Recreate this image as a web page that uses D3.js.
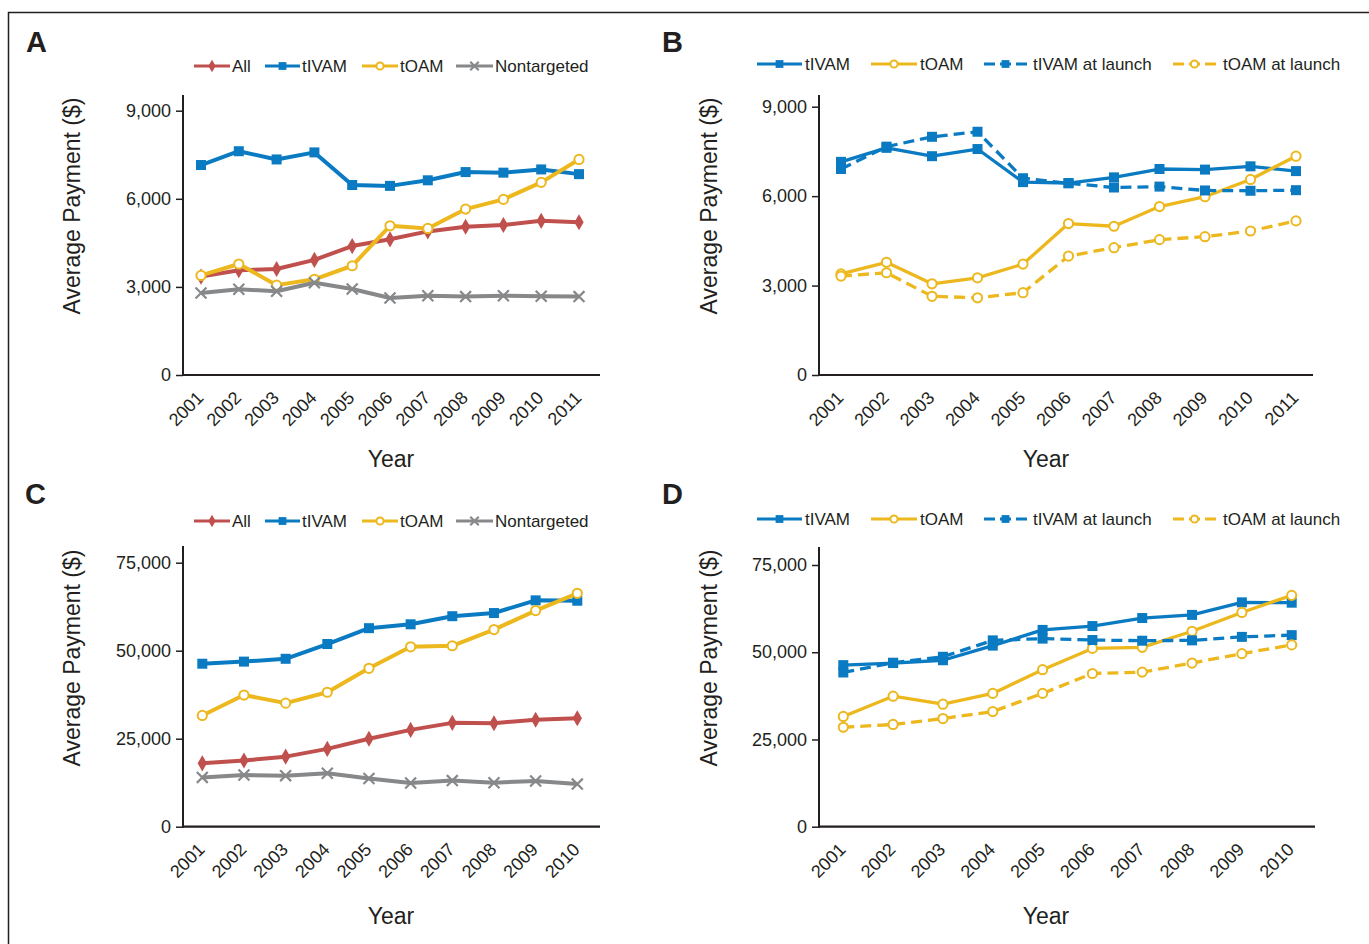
<!DOCTYPE html>
<html><head><meta charset="utf-8">
<script src="https://cdn.jsdelivr.net/npm/d3@7"></script>
<style>
body{margin:0;background:#fff}
svg text{font-family:"Liberation Sans",Arial,Helvetica,sans-serif;fill:#231f20}
</style>
</head><body>
<svg id="chart" width="1369" height="944"></svg>
<script>
// ---------------- DATA ----------------
const years11 = ["2001","2002","2003","2004","2005","2006","2007","2008","2009","2010","2011"];
const years10 = ["2001","2002","2003","2004","2005","2006","2007","2008","2009","2010"];
const labelsAC = ["All","tIVAM","tOAM","Nontargeted"];
const labelsBD = ["tIVAM","tOAM","tIVAM at launch","tOAM at launch"];
const yTicksAB = [0, 3000, 6000, 9000];
const yTicksCD = [0, 25000, 50000, 75000];

// Panel A / B (per-year values, 2001-2011)
const abAll      = [3350, 3570, 3610, 3920, 4390, 4620, 4890, 5050, 5110, 5250, 5200];
const abTivam    = [7150, 7620, 7340, 7580, 6470, 6440, 6630, 6910, 6890, 7000, 6840];
const abToam     = [3390, 3780, 3060, 3260, 3720, 5080, 4990, 5650, 5980, 6560, 7340];
const abNontarg  = [2790, 2920, 2850, 3140, 2930, 2620, 2700, 2670, 2700, 2680, 2670];
const bTivamLaunch = [6910, 7660, 7990, 8160, 6600, 6430, 6290, 6320, 6190, 6180, 6200];
const bToamLaunch  = [3320, 3430, 2640, 2590, 2760, 3990, 4270, 4540, 4640, 4830, 5170];

// Panel C / D (2001-2010)
const cdAll      = [18000, 18800, 19900, 22100, 25000, 27500, 29500, 29400, 30400, 30800];
const cdTivam    = [46300, 46900, 47700, 51900, 56400, 57500, 59800, 60700, 64300, 64200];
const cdToam     = [31600, 37400, 35100, 38200, 45000, 51100, 51400, 56000, 61400, 66300];
const cdNontarg  = [14000, 14700, 14500, 15200, 13700, 12400, 13100, 12500, 13000, 12100];
const dTivamLaunch = [44200, 47000, 48700, 53400, 53900, 53500, 53300, 53400, 54400, 54900];
const dToamLaunch  = [28500, 29300, 31000, 33000, 38200, 43900, 44300, 46900, 49600, 52100];

// ---------------- STYLE ----------------
const INK = "#231f20";
const C = {red:"#c0504d", blue:"#0a7bc2", yellow:"#ecb81e", grey:"#87888a"};
const svg = d3.select("#chart");

// frame
svg.append("path").attr("d","M8.5,1000 L8.5,12.5 L1400,12.5")
  .attr("fill","none").attr("stroke",INK).attr("stroke-width",1.5);

function drawMarker(g, type, cx, cy, color, scale){
  const s = scale || 1;
  if(type==="square"){
    g.append("rect").attr("x",cx-5*s).attr("y",cy-5*s).attr("width",10*s).attr("height",10*s).attr("fill",color);
  } else if(type==="circle"){
    g.append("circle").attr("cx",cx).attr("cy",cy).attr("r",4.6*s).attr("fill","#fff").attr("stroke",color).attr("stroke-width",2);
  } else if(type==="diamond"){
    g.append("path").attr("d",d3.symbol().type(d3.symbolDiamond).size(75*s*s)()).attr("transform",`translate(${cx},${cy})`).attr("fill",color);
  } else if(type==="x"){
    g.append("path").attr("d",d3.symbol().type(d3.symbolTimes).size(80*s*s)()).attr("transform",`translate(${cx},${cy})`)
      .attr("fill","none").attr("stroke",color).attr("stroke-width",2.2);
  }
}

function panel(o){
  const g = svg.append("g");
  const x = d3.scalePoint().domain(o.years).range([o.x0, o.x1]);
  const y = d3.scaleLinear().domain([0, o.ymax]).range([o.yb, o.yt]);

  // y axis ticks/labels
  const yg = g.append("g").attr("transform",`translate(${o.ax},0)`)
    .call(d3.axisLeft(y).tickValues(o.ticks).tickFormat(d3.format(",")).tickSize(7).tickPadding(5));
  yg.select(".domain").remove();
  yg.selectAll(".tick line").attr("stroke",INK).attr("stroke-width",1.5);
  yg.selectAll(".tick text").style("font-size","18px").attr("fill",INK)
    .style("font-family","'Liberation Sans',Arial,sans-serif");

  // x axis labels
  const xg = g.append("g").attr("transform",`translate(0,${o.yb})`)
    .call(d3.axisBottom(x).tickSize(0));
  xg.select(".domain").remove();
  xg.selectAll(".tick text").attr("y",0).attr("dy",0).attr("text-anchor","end")
    .attr("transform","translate(3,24) rotate(-45)")
    .style("font-size","18px").attr("fill",INK)
    .style("font-family","'Liberation Sans',Arial,sans-serif");

  // axis lines
  g.append("line").attr("x1",o.ax).attr("x2",o.ax).attr("y1",o.axTop).attr("y2",o.yb+1)
    .attr("stroke",INK).attr("stroke-width",2);
  g.append("line").attr("x1",o.ax).attr("x2",o.axEnd).attr("y1",o.yb).attr("y2",o.yb)
    .attr("stroke",INK).attr("stroke-width",2.2);

  // series
  const line = d3.line().x((d,i)=>x(o.years[i])).y(d=>y(d));
  o.series.forEach(s=>{
    const sg = g.append("g");
    sg.append("path").attr("d",line(s.values)).attr("fill","none")
      .attr("stroke",s.color).attr("stroke-width",o.lw)
      .attr("stroke-linejoin","round")
      .attr("stroke-dasharray",s.dashed? "11,6" : null);
    s.values.forEach((v,i)=>drawMarker(sg, s.marker, x(o.years[i]), y(v), s.color, 1));
  });

  // legend
  o.series.forEach((s,i)=>{
    const L = o.legend[i];
    const lg = g.append("g");
    lg.append("line").attr("x1",L.l0).attr("x2",L.l1).attr("y1",o.ly).attr("y2",o.ly)
      .attr("stroke",s.color).attr("stroke-width",3)
      .attr("stroke-dasharray",s.dashed? "11,5" : null);
    drawMarker(lg, s.marker, (L.l0+L.l1)/2, o.ly, s.color, 0.78);
    lg.append("text").attr("x",L.t).attr("y",o.ly).attr("dy","0.36em")
      .style("font-size","17px").text(s.label);
  });

  // panel letter
  g.append("text").attr("x",o.letterX).attr("y",o.letterY).text(o.letter)
    .style("font-size","29px").style("font-weight","bold");

  // axis titles
  g.append("text").attr("transform",`translate(${o.ylabX},${o.ylabY}) rotate(-90)`)
    .attr("text-anchor","middle").style("font-size","23px").text("Average Payment ($)");
  g.append("text").attr("x",o.xlabX).attr("y",o.xlabY)
    .attr("text-anchor","middle").style("font-size","23px").text("Year");
}

const legAC = [{l0:194,l1:230,t:232},{l0:265,l1:300,t:302},{l0:362,l1:398,t:400},{l0:456,l1:493,t:495}];
const legBD = [{l0:757,l1:802,t:805},{l0:871,l1:917,t:920},{l0:984,l1:1027,t:1033},{l0:1173,l1:1216,t:1223}];

function seriesAC(all,tiv,toa,non){
  return [
    {label:labelsAC[0], values:all, color:C.red, marker:"diamond"},
    {label:labelsAC[1], values:tiv, color:C.blue, marker:"square"},
    {label:labelsAC[2], values:toa, color:C.yellow, marker:"circle"},
    {label:labelsAC[3], values:non, color:C.grey, marker:"x"}
  ];
}
function seriesBD(tiv,toa,tivL,toaL){
  return [
    {label:labelsBD[0], values:tiv, color:C.blue, marker:"square"},
    {label:labelsBD[1], values:toa, color:C.yellow, marker:"circle"},
    {label:labelsBD[2], values:tivL, color:C.blue, marker:"square", dashed:true},
    {label:labelsBD[3], values:toaL, color:C.yellow, marker:"circle", dashed:true}
  ];
}

panel({letter:"A", letterX:26, letterY:52, years:years11, ymax:9000, ticks:yTicksAB,
  ax:183, x0:201, x1:579, axEnd:600, yb:375, yt:110.7, axTop:95, lw:4,
  ly:66, legend:legAC, ylabX:80, ylabY:206, xlabX:391, xlabY:467,
  series:seriesAC(abAll, abTivam, abToam, abNontarg)});

panel({letter:"B", letterX:662, letterY:52, years:years11, ymax:9000, ticks:yTicksAB,
  ax:819, x0:841, x1:1296, axEnd:1313, yb:375, yt:106.7, axTop:95, lw:3.3,
  ly:64, legend:legBD, ylabX:717, ylabY:206, xlabX:1046, xlabY:467,
  series:seriesBD(abTivam, abToam, bTivamLaunch, bToamLaunch)});

panel({letter:"C", letterX:25, letterY:504, years:years10, ymax:75000, ticks:yTicksCD,
  ax:183, x0:202.3, x1:577.3, axEnd:600, yb:826.7, yt:562.7, axTop:546, lw:4,
  ly:521, legend:legAC, ylabX:80, ylabY:658, xlabX:391, xlabY:924,
  series:seriesAC(cdAll, cdTivam, cdToam, cdNontarg)});

panel({letter:"D", letterX:662, letterY:504, years:years10, ymax:75000, ticks:yTicksCD,
  ax:819, x0:843.3, x1:1291.7, axEnd:1315, yb:826.7, yt:565, axTop:547, lw:3.3,
  ly:519, legend:legBD, ylabX:717, ylabY:658, xlabX:1046, xlabY:924,
  series:seriesBD(cdTivam, cdToam, dTivamLaunch, dToamLaunch)});
</script>
</body></html>
